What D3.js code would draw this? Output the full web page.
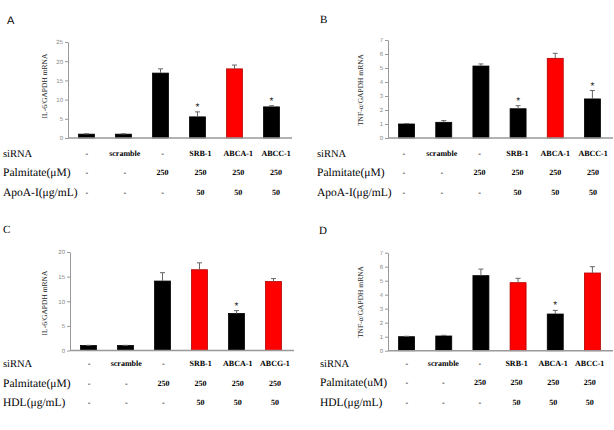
<!DOCTYPE html>
<html>
<head>
  <meta charset="utf-8">
  <script src="https://cdnjs.cloudflare.com/ajax/libs/d3/7.8.5/d3.min.js"></script>
  <style>
    body { margin: 0; background: #fff; }
    svg { display: block; }
  </style>
</head>
<body>
<script>
// --- data ---
var sirnaA = ["-", "scramble", "-", "SRB-1", "ABCA-1", "ABCC-1"];
var sirnaC = ["-", "scramble", "-", "SRB-1", "ABCA-1", "ABCG-1"];
var palmitate = ["-", "-", "250", "250", "250", "250"];
var apoA = ["-", "-", "-", "50", "50", "50"];
var hdl = ["-", "-", "-", "50", "50", "50"];

var valA = [1.0, 1.0, 16.9, 5.5, 18.0, 8.1];
var errA = [0.1, 0.1, 1.1, 1.3, 1.0, 0.3];
var redA = [4];
var starA = [3, 5];

var valB = [1.0, 1.12, 5.14, 2.09, 5.69, 2.79];
var errB = [0.03, 0.12, 0.15, 0.22, 0.36, 0.6];
var redB = [4];
var starB = [3, 5];

var valC = [1.0, 1.0, 14.1, 16.4, 7.5, 14.0];
var errC = [0.05, 0.05, 1.7, 1.4, 0.6, 0.6];
var redC = [3, 5];
var starC = [4];

var valD = [1.0, 1.05, 5.36, 4.86, 2.62, 5.55];
var errD = [0.03, 0.05, 0.47, 0.31, 0.26, 0.45];
var redD = [3, 5];
var starD = [4];

var serif = "'Liberation Serif', 'Times New Roman', serif";
var sans = "'Liberation Sans', Arial, sans-serif";

var svg = d3.select("body").append("svg").attr("width", 614).attr("height", 430)
  .attr("text-rendering", "geometricPrecision");

function panel(p) {
  var g = svg.append("g");
  var idx = d3.range(p.values.length);

  var x = d3.scalePoint().domain(idx).range([p.x0, p.x1]).padding(0.5);
  var y = d3.scaleLinear().domain([0, p.ymax]).range([p.y0, p.y1]);
  var bw = x.step() * 0.43;

  // letter
  g.append("text").attr("x", p.lx).attr("y", p.ly)
    .attr("font-family", p.lfont).attr("font-size", 11).attr("fill", "#000").text(p.letter);

  // y axis
  var ya = g.append("g").attr("transform", "translate(" + p.x0 + ",0)")
    .call(d3.axisLeft(y).tickValues(d3.range(0, p.ymax + 0.001, p.step))
      .tickFormat(d3.format("d")).tickSize(3).tickSizeOuter(0));
  ya.select(".domain").attr("stroke", "#999");
  ya.selectAll(".tick line").attr("stroke", "#999");
  ya.selectAll(".tick text").attr("fill", "#888").attr("font-size", 6)
    .attr("font-family", sans).attr("x", -5);

  g.append("text")
    .attr("transform", "translate(" + p.ylx + "," + p.yly + ") rotate(-90)")
    .attr("text-anchor", "middle").attr("dy", "0.35em")
    .attr("font-family", serif).attr("font-size", 7.5)
    .attr("fill", "#222").text(p.ylabel);

  // bars
  g.selectAll("rect.bar").data(idx).enter().append("rect")
    .attr("x", function(i) { return x(i) - bw / 2; })
    .attr("y", function(i) { return y(p.values[i]); })
    .attr("width", bw)
    .attr("height", function(i) { return p.y0 - y(p.values[i]); })
    .attr("fill", function(i) { return p.red.indexOf(i) >= 0 ? "#ff0000" : "#000"; })
    .attr("stroke", function(i) { return p.red.indexOf(i) >= 0 ? "#b00000" : "#000"; })
    .attr("stroke-width", 0.8);

  // error bars
  var eb = g.selectAll("g.err").data(idx).enter().append("g");
  eb.append("line")
    .attr("x1", function(i) { return x(i); }).attr("x2", function(i) { return x(i); })
    .attr("y1", function(i) { return y(p.values[i]); })
    .attr("y2", function(i) { return y(p.values[i] + p.err[i]); })
    .attr("stroke", "#666").attr("stroke-width", 1);
  eb.append("line")
    .attr("x1", function(i) { return x(i) - 2.5; }).attr("x2", function(i) { return x(i) + 2.5; })
    .attr("y1", function(i) { return y(p.values[i] + p.err[i]); })
    .attr("y2", function(i) { return y(p.values[i] + p.err[i]); })
    .attr("stroke", "#666").attr("stroke-width", 1);

  // stars
  g.selectAll("text.star").data(p.stars).enter().append("text")
    .attr("x", function(i) { return x(i); })
    .attr("y", function(i) { return y(p.values[i] + p.err[i]) - 2; })
    .attr("text-anchor", "middle").attr("font-size", 10)
    .attr("font-family", sans).attr("fill", "#222").text("*");

  // x baseline
  g.append("line").attr("x1", p.x0).attr("x2", p.x1 + 2)
    .attr("y1", p.y0).attr("y2", p.y0).attr("stroke", "#999").attr("stroke-width", 1.5);

  // table below
  var tx = d3.scalePoint().domain(idx).range(p.trange).padding(0.5);
  p.rows.forEach(function(r, k) {
    var ry = p.ty[k];
    g.append("text").attr("x", p.tlx).attr("y", ry)
      .attr("dy", "0.35em").attr("font-family", serif)
      .attr("font-size", k == 0 ? 10.5 : 11.5).attr("fill", "#000").text(r.label);
    g.selectAll("text.c" + k).data(r.cells).enter().append("text")
      .attr("x", function(d, i) { return tx(i); })
      .attr("y", ry).attr("dy", "0.35em").attr("font-family", serif)
      .attr("text-anchor", "middle").attr("font-size", 8).attr("font-weight", "bold")
      .attr("fill", "#000").text(function(d) { return d; });
  });
}

panel({
  letter: "A", lx: 7, ly: 24, lfont: sans,
  values: valA, err: errA, red: redA, stars: starA,
  x0: 68, x1: 290, y0: 138, y1: 42, ymax: 25, step: 5,
  ylabel: "IL-6/GAPDH mRNA", ylx: 44, yly: 86,
  trange: [68, 295], tlx: 3, ty: [153, 172, 192],
  rows: [{label: "siRNA", cells: sirnaA}, {label: "Palmitate(\u03bcM)", cells: palmitate},
         {label: "ApoA-I(\u03bcg/mL)", cells: apoA}]
});

panel({
  letter: "B", lx: 320, ly: 23, lfont: serif,
  values: valB, err: errB, red: redB, stars: starB,
  x0: 388, x1: 611, y0: 138, y1: 40, ymax: 7, step: 1,
  ylabel: "TNF-\u03b1/GAPDH mRNA", ylx: 360, yly: 90,
  trange: [385, 612], tlx: 317, ty: [153, 172, 192],
  rows: [{label: "siRNA", cells: sirnaA}, {label: "Palmitate(\u03bcM)", cells: palmitate},
         {label: "ApoA-I(\u03bcg/mL)", cells: apoA}]
});

panel({
  letter: "C", lx: 3, ly: 233, lfont: serif,
  values: valC, err: errC, red: redC, stars: starC,
  x0: 70, x1: 292, y0: 350.5, y1: 252, ymax: 20, step: 5,
  ylabel: "IL-6/GAPDH mRNA", ylx: 44, yly: 303,
  trange: [70.5, 293.5], tlx: 3, ty: [363, 383, 402],
  rows: [{label: "siRNA", cells: sirnaC}, {label: "Palmitate(\u03bcM)", cells: palmitate},
         {label: "HDL(\u03bcg/mL)", cells: hdl}]
});

panel({
  letter: "D", lx: 319, ly: 234, lfont: serif,
  values: valD, err: errD, red: redD, stars: starD,
  x0: 388, x1: 611, y0: 350.7, y1: 252.7, ymax: 7, step: 1,
  ylabel: "TNF-\u03b1/GAPDH mRNA", ylx: 360, yly: 302,
  trange: [388.5, 608], tlx: 320, ty: [363, 382, 402],
  rows: [{label: "siRNA", cells: sirnaA}, {label: "Palmitate(uM)", cells: palmitate},
         {label: "HDL(\u03bcg/mL)", cells: hdl}]
});
</script>
</body>
</html>
